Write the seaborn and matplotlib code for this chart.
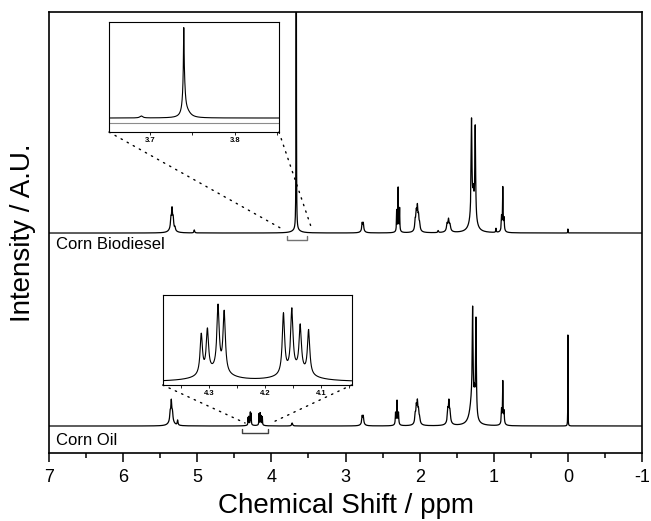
import numpy as np
import pandas as pd
import matplotlib
matplotlib.use("Agg")
import matplotlib.pyplot as plt
from matplotlib.patches import ConnectionPatch
from matplotlib.ticker import MultipleLocator, NullLocator
import seaborn as sns

# ------------------------------
# peak tables: position (ppm), height (A.U.), half width (ppm)
# ------------------------------
bio_ppm = [5.355, 5.34, 5.325, 5.34, 5.30, 5.04, 3.665, 3.665,
           2.775, 2.76, 2.768, 2.31, 2.29, 2.27, 2.29,
           2.06, 2.045, 2.03, 2.015, 2.00, 2.03,
           1.75, 1.63, 1.61, 1.59, 1.61, 1.28, 1.30, 1.275, 1.25,
           0.97, 0.895, 0.878, 0.861, 0.878, 0.0]
bio_height = [9, 17, 9, 6, 3, 3, 900, 3,
              7, 7, 3, 20, 40, 22, 5,
              9, 15, 19, 11, 6, 5,
              2, 6, 9, 5, 4, 28, 92, 12, 90,
              4, 13, 40, 11, 5, 4]
bio_width = [0.007, 0.007, 0.007, 0.035, 0.006, 0.006, 0.0015, 0.06,
             0.006, 0.006, 0.025, 0.003, 0.003, 0.003, 0.02,
             0.007, 0.007, 0.007, 0.007, 0.007, 0.03,
             0.006, 0.008, 0.008, 0.008, 0.03, 0.035, 0.006, 0.006, 0.006,
             0.004, 0.004, 0.004, 0.004, 0.02, 0.002]

oil_ppm = [5.365, 5.35, 5.335, 5.35, 5.265,
           4.314, 4.303, 4.284, 4.273, 4.167, 4.152, 4.137, 4.122, 4.29, 4.145,
           3.72, 2.775, 2.76, 2.768, 2.325, 2.305, 2.285, 2.305,
           2.06, 2.045, 2.03, 2.015, 2.00, 2.03, 1.62, 1.605, 1.59, 1.605,
           1.29, 1.285, 1.26, 1.24, 0.895, 0.878, 0.861, 0.878, 0.0]
oil_height = [8, 18, 8, 6, 5,
              7.2, 7.6, 11.6, 10.9, 10.9, 11.1, 8.2, 8.0, 1.8, 1.8,
              3, 7, 7, 3, 11, 21, 11, 4,
              8, 14, 17, 10, 5, 5, 11, 18, 9, 5,
              28, 90, 14, 97, 13, 39, 11, 5, 91]
oil_width = [0.007, 0.007, 0.007, 0.035, 0.006,
             0.0025, 0.0025, 0.0025, 0.0025, 0.0025, 0.0025, 0.0025, 0.0025, 0.03, 0.03,
             0.008, 0.006, 0.006, 0.025, 0.004, 0.004, 0.004, 0.02,
             0.007, 0.007, 0.007, 0.007, 0.007, 0.03, 0.007, 0.007, 0.007, 0.03,
             0.035, 0.006, 0.006, 0.006, 0.004, 0.004, 0.004, 0.02, 0.0015]

# methyl ester singlet as drawn in the upper inset
ester_ppm = [3.690, 3.740, 3.7402, 3.744]
ester_height = [2, 48, 40, 5]
ester_width = [0.002, 0.0004, 0.0016, 0.005]

bio_offset = 220
oil_offset = 27

# zoom brackets and the ends of the dotted leader lines (ppm)
bio_bracket = [3.79, 3.52]
oil_bracket = [4.395, 4.045]
bio_leader = [3.83, 3.45]
oil_leader = [4.355, 4.004]


def spectrum(ppm, pos, height, width):
    y = np.zeros_like(ppm)
    for p, h, w in zip(pos, height, width):
        y += h * w ** 2 / ((ppm - p) ** 2 + w ** 2)
    return y


sns.set_style("ticks")
plt.rcParams['font.family'] = ['Liberation Sans', 'DejaVu Sans']
plt.rcParams['axes.unicode_minus'] = False
plt.rcParams['text.color'] = 'black'
plt.rcParams['axes.labelcolor'] = 'black'
plt.rcParams['xtick.color'] = 'black'
plt.rcParams['ytick.color'] = 'black'

fig = plt.figure(figsize=(6.51, 5.21), dpi=100)
ax = fig.add_axes([0.0753, 0.1305, 0.9109, 0.8464])

grid = np.arange(-1.0, 7.00001, 0.0002)
df = pd.DataFrame({
    "ppm": grid,
    "bio": spectrum(grid, bio_ppm, bio_height, bio_width) + bio_offset,
    "oil": spectrum(grid, oil_ppm, oil_height, oil_width) + oil_offset,
})
sns.lineplot(data=df, x="ppm", y="bio", color="black", lw=0.9, estimator=None, ax=ax)
sns.lineplot(data=df, x="ppm", y="oil", color="black", lw=0.9, estimator=None, ax=ax)

ax.set_xlim(7, -1)
ax.set_ylim(0, 441)
ax.yaxis.set_major_locator(NullLocator())
ax.xaxis.set_major_locator(MultipleLocator(1))
ax.xaxis.set_minor_locator(MultipleLocator(0.5))
ax.tick_params(axis='x', which='major', direction='out', length=6.5, width=1.1, labelsize=13, pad=5)
ax.tick_params(axis='x', which='minor', direction='out', length=3.5, width=1.1)
for s in ax.spines.values():
    s.set_linewidth(1.2)
    s.set_color("black")
ax.set_xlabel("Chemical Shift / ppm", fontsize=20, labelpad=5)
ax.set_ylabel("Intensity / A.U.", fontsize=20)
ax.yaxis.set_label_coords(-0.022, 0.5)

ax.text(6.9, bio_offset - 16, "Corn Biodiesel", fontsize=12, va="baseline")
ax.text(6.9, oil_offset - 19, "Corn Oil", fontsize=12, va="baseline")

# brackets under the zoomed regions
for (lo, hi), base, col in [(bio_bracket, bio_offset, "0.45"), (oil_bracket, oil_offset, "0.25")]:
    ax.plot([lo, lo, hi, hi], [base - 3, base - 7, base - 7, base - 3], color=col, lw=1.0)

# ------------------------------
# upper inset: methyl ester peak
# ------------------------------
ins1 = fig.add_axes([0.1674, 0.7466, 0.2611, 0.2111])
eg = np.arange(3.652, 3.852, 0.00005)
edf = pd.DataFrame({"ppm": eg, "y": spectrum(eg, ester_ppm, ester_height, ester_width) + 5})
ins1.axhline(0, color="0.55", lw=0.8)
sns.lineplot(data=edf, x="ppm", y="y", color="black", lw=0.8, estimator=None, ax=ins1)
ins1.set_xlim(3.652, 3.852)
ins1.set_ylim(-9, 101)

# ------------------------------
# lower inset: glycerol CH2 multiplets of the oil
# ------------------------------
ins2 = fig.add_axes([0.2499, 0.2610, 0.2903, 0.1727])
gg = np.arange(4.045, 4.383, 0.0001)
gdf = pd.DataFrame({"ppm": gg, "y": spectrum(gg, oil_ppm, oil_height, oil_width)})
sns.lineplot(data=gdf, x="ppm", y="y", color="black", lw=0.8, estimator=None, ax=ins2)
top = gdf["y"].max()
ins2.set_xlim(4.383, 4.045)
ins2.set_ylim(-top * 3 / 78, top * 87 / 78)

for ins in (ins1, ins2):
    ins.set_xlabel("")
    ins.set_ylabel("")
    ins.yaxis.set_major_locator(NullLocator())
    ins.xaxis.set_major_locator(MultipleLocator(0.1))
    ins.xaxis.set_minor_locator(MultipleLocator(0.05))
    ins.tick_params(axis='x', which='major', direction='out', length=2.5, width=0.6,
                    labelsize=5.5, pad=1)
    ins.tick_params(axis='x', which='minor', direction='out', length=2.5, width=0.6)
    for lab in ins.get_xticklabels():
        lab.set_fontweight("bold")
    for s in ins.spines.values():
        s.set_linewidth(0.8)
        s.set_color("black")

# dotted leader lines from the insets to the brackets
for ins, ends, base in [(ins1, bio_leader, bio_offset), (ins2, oil_leader, oil_offset)]:
    for corner, end in zip([(0, 0), (1, 0)], ends):
        con = ConnectionPatch(xyA=corner, coordsA=ins.transAxes, xyB=(end, base + 3),
                              coordsB=ax.transData, linestyle=(0, (1, 4)), lw=1.0, color="black")
        fig.add_artist(con)

fig.savefig("out.png", dpi=100)
